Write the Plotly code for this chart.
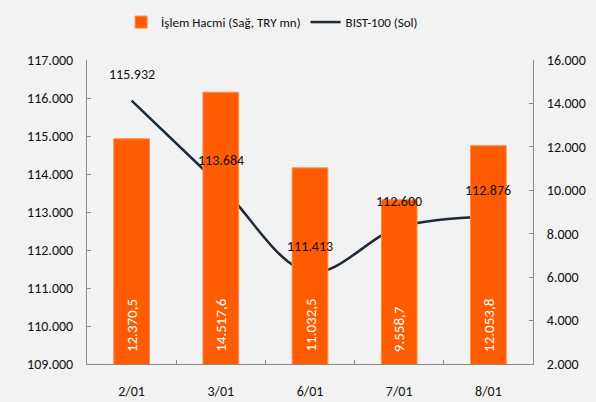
import plotly.graph_objects as go

categories = ["2/01", "3/01", "6/01", "7/01", "8/01"]
volume = [12370.5, 14517.6, 11032.5, 9558.7, 12053.8]
bist100 = [115932, 113684, 111413, 112600, 112876]
left_ticks = [109000, 110000, 111000, 112000, 113000, 114000, 115000, 116000, 117000]
right_ticks = [2000, 4000, 6000, 8000, 10000, 12000, 14000, 16000]

FONT = "Carlito, Lato, sans-serif"
ORANGE = "#FF5B00"
NAVY = "#1E2A3A"
AXIS = "#8C8C8C"
BG = "#F2F2F2"


def fmt(v, dec=0):
    s = f"{v:,.{dec}f}"
    return s.replace(",", "X").replace(".", ",").replace("X", ".")


fig = go.Figure()
fig.add_trace(go.Bar(
    x=categories, y=volume, name="İşlem Hacmi (Sağ, TRY mn)",
    yaxis="y2", marker=dict(color=ORANGE, line=dict(color="#FF8A4A", width=1)),
    width=0.4,
))
fig.add_trace(go.Scatter(
    x=categories, y=bist100, name="BIST-100 (Sol)", mode="lines",
    line=dict(color=NAVY, width=2.5, shape="spline", smoothing=1.0),
))
for c, v in zip(categories, bist100):
    fig.add_annotation(x=c, y=v, text=fmt(v), showarrow=False,
                       yshift=26, font=dict(size=14, color="#111111", family=FONT))
for c, v in zip(categories, volume):
    fig.add_annotation(x=c, y=right_ticks[0], yref="y2", text=fmt(v, 1), showarrow=False,
                       textangle=-90, yanchor="bottom", yshift=10,
                       font=dict(size=15, color="white", family=FONT))

fig.update_layout(
    width=596, height=402,
    paper_bgcolor=BG, plot_bgcolor=BG,
    margin=dict(l=87, r=63, t=60, b=38, autoexpand=False),
    separators=",.",
    font=dict(family=FONT, size=14, color="#111111"),
    showlegend=True,
    legend=dict(orientation="h", x=0.415, xanchor="center", yref="container",
                y=0.945, yanchor="middle",
                font=dict(size=13), bgcolor="rgba(0,0,0,0)"),
    bargap=0.6,
    xaxis=dict(showline=True, linecolor=AXIS, linewidth=1, ticks="inside", ticklen=4,
               tickcolor=AXIS, tickson="boundaries", showgrid=False, ticklabelstandoff=14,
               automargin=False),
    yaxis=dict(range=[109000, 117000], tickvals=left_ticks, tickformat=",d", showgrid=False,
               showline=True, linecolor=AXIS, ticks="inside", ticklen=4, tickcolor=AXIS,
               ticklabelstandoff=10, zeroline=False, automargin=False),
    yaxis2=dict(range=[2000, 16000], tickvals=right_ticks, tickformat=",d", overlaying="y",
                side="right", showgrid=False, showline=True, linecolor=AXIS, ticks="inside",
                ticklen=4, tickcolor=AXIS, ticklabelstandoff=10, zeroline=False,
                automargin=False),
)
fig.write_html(
    "out.html",
    config={"displayModeBar": False},
    post_script="document.body.style.margin='0';document.body.style.background='#F2F2F2';",
)
